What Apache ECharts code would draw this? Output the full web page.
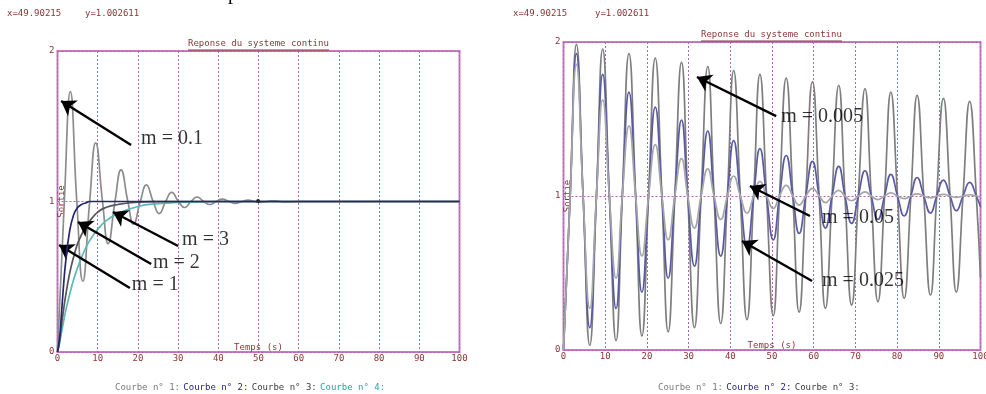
<!DOCTYPE html>
<html>
<head>
<meta charset="utf-8">
<script src="https://cdn.jsdelivr.net/npm/echarts@6/dist/echarts.min.js"></script>
<style>
  html, body { margin: 0; padding: 0; background: #ffffff; }
  #c { width: 986px; height: 394px; }
</style>
</head>
<body>
<div id="c"></div>
<script>
// ---- Left panel: step responses, m = 0.1 (oscillating) ----
const tLeftOsc = [0, 1.7, 3.2, 4.8, 6.3, 8.0, 9.5, 11.2, 12.6, 14.3, 15.8, 17.5, 18.9, 20.6, 22.1, 23.8, 25.3, 26.9, 28.4, 30.1,
  31.6, 33.2, 34.7, 36.4, 37.9, 39.5, 41.0, 42.7, 44.2, 45.9, 47.4, 49.0, 50.5, 52.2, 53.7, 55.3, 56.8, 60, 100];
const yM01 = [0, 1, 1.73, 1, 0.47, 1, 1.39, 1, 0.72, 1, 1.21, 1, 0.85, 1, 1.11, 1, 0.92, 1, 1.06, 1,
  0.96, 1, 1.03, 1, 0.98, 1, 1.016, 1, 0.988, 1, 1.009, 1, 0.994, 1, 1.004, 1, 0.997, 1, 1];

// ---- Left panel: damped responses m = 1, 2, 3 ----
const tLeftStep = [0, 0.5, 1, 1.5, 2, 3, 4, 5, 6, 7, 8, 10, 12, 15, 20, 25, 30, 40, 100];
const yM1 = [0, 0.09, 0.26, 0.44, 0.59, 0.80, 0.91, 0.96, 0.98, 0.99, 1.0, 1.0, 1.0, 1.0, 1.0, 1.0, 1.0, 1.0, 1.0];
const yM2 = [0, 0.07, 0.18, 0.28, 0.37, 0.52, 0.63, 0.72, 0.78, 0.835, 0.87, 0.93, 0.96, 0.98, 0.995, 0.999, 1.0, 1.0, 1.0];
const yM3 = [0, 0.056, 0.13, 0.20, 0.27, 0.38, 0.48, 0.56, 0.63, 0.69, 0.74, 0.815, 0.87, 0.92, 0.967, 0.986, 0.994, 0.999, 1.0];

// ---- Right panel: lightly damped responses m = 0.005, 0.025, 0.05 ----
const tRight = [0, 1.6, 3.1, 4.7, 6.3, 7.9, 9.4, 11.0, 12.6, 14.1, 15.7, 17.3, 18.8, 20.4, 22.0, 23.6, 25.1, 26.7, 28.3, 29.8,
  31.4, 33.0, 34.6, 36.1, 37.7, 39.3, 40.8, 42.4, 44.0, 45.6, 47.1, 48.7, 50.3, 51.8, 53.4, 55.0, 56.5, 58.1, 59.7, 61.3,
  62.8, 64.4, 66.0, 67.5, 69.1, 70.7, 72.3, 73.8, 75.4, 77.0, 78.5, 80.1, 81.7, 83.3, 84.8, 86.4, 88.0, 89.5, 91.1, 92.7,
  94.2, 95.8, 97.4, 99.0, 100];
const yM0005 = [0, 1, 1.984, 1, 0.031, 1, 1.954, 1, 0.061, 1, 1.925, 1, 0.090, 1, 1.896, 1, 0.118, 1, 1.868, 1,
  0.145, 1, 1.841, 1, 0.172, 1, 1.815, 1, 0.197, 1, 1.790, 1, 0.222, 1, 1.766, 1, 0.246, 1, 1.742, 1,
  0.270, 1, 1.719, 1, 0.292, 1, 1.697, 1, 0.314, 1, 1.675, 1, 0.335, 1, 1.654, 1, 0.356, 1, 1.634, 1,
  0.376, 1, 1.615, 1, 0.47];
const yM0025 = [0, 1, 1.925, 1, 0.145, 1, 1.790, 1, 0.270, 1, 1.675, 1, 0.376, 1, 1.577, 1, 0.466, 1, 1.493, 1,
  0.544, 1, 1.422, 1, 0.610, 1, 1.360, 1, 0.667, 1, 1.308, 1, 0.715, 1, 1.263, 1, 0.757, 1, 1.225, 1,
  0.792, 1, 1.192, 1, 0.822, 1, 1.164, 1, 0.848, 1, 1.141, 1, 0.870, 1, 1.120, 1, 0.889, 1, 1.103, 1,
  0.905, 1, 1.088, 1, 0.93];
const yM005 = [0, 1, 1.855, 1, 0.270, 1, 1.624, 1, 0.467, 1, 1.456, 1, 0.611, 1, 1.333, 1, 0.716, 1, 1.243, 1,
  0.792, 1, 1.177, 1, 0.848, 1, 1.130, 1, 0.889, 1, 1.095, 1, 0.919, 1, 1.069, 1, 0.941, 1, 1.050, 1,
  0.957, 1, 1.037, 1, 0.969, 1, 1.027, 1, 0.977, 1, 1.020, 1, 0.983, 1, 1.014, 1, 0.988, 1, 1.011, 1,
  0.991, 1, 1.008, 1, 0.994];

// cursor readout
const cursorX = 49.90215;
const cursorY = 1.002611;

// annotation labels (text, anchor) and arrows (tail, head), in data units
const leftNoteText = ['m = 0.1', 'm = 3', 'm = 2', 'm = 1'];
const leftNoteAt = [[20.8, 1.415], [31.0, 0.744], [23.75, 0.591], [18.5, 0.445]];
const leftArrowFrom = [[18.3, 1.375], [30.0, 0.704], [23.3, 0.585], [18.0, 0.425]];
const leftArrowTo = [[0.9, 1.668], [13.8, 0.930], [5.1, 0.864], [0.4, 0.711]];

const rightNoteText = ['m = 0.005', 'm = 0.05', 'm = 0.025'];
const rightNoteAt = [[52.2, 1.513], [62.0, 0.857], [62.0, 0.448]];
const rightArrowFrom = [[51.0, 1.519], [59.1, 0.870], [59.6, 0.448]];
const rightArrowTo = [[32.0, 1.773], [44.7, 1.065], [42.8, 0.708]];

const titleText = 'Reponse du systeme continu';
const xName = 'Temps (s)';
const yName = 'Sortie';

// ---- styling ----
const MONO = 'DejaVu Sans Mono';
const SERIF = 'Liberation Serif';
const RED = '#8a3434';
const FRAME = '#c47cc4';
const GRIDC = '#b064b0';

const zip = (ts, ys) => ts.map((t, i) => [t, ys[i]]);

function xAxisCfg(gi) {
  return {
    type: 'value', gridIndex: gi, min: 0, max: 100, interval: 10,
    axisLine: { show: false }, axisTick: { show: false },
    axisLabel: { color: RED, fontFamily: MONO, fontSize: 9, margin: 2 },
    splitLine: { show: true, lineStyle: { color: GRIDC, type: [2, 2], width: 1 } },
    name: xName, nameLocation: 'middle', nameGap: -9, nameMoveOverlap: false,
    nameTextStyle: { color: RED, fontFamily: MONO, fontSize: 9 }
  };
}
function yAxisCfg(gi) {
  return {
    type: 'value', gridIndex: gi, min: 0, max: 2, interval: 1,
    axisLine: { show: false }, axisTick: { show: false },
    axisLabel: { color: RED, fontFamily: MONO, fontSize: 9, margin: 3 },
    splitLine: { show: true, lineStyle: { color: GRIDC, type: [2, 2], width: 1 } },
    name: yName, nameLocation: 'middle', nameRotate: 90, nameGap: -9, nameMoveOverlap: false,
    nameTextStyle: { color: RED, fontFamily: MONO, fontSize: 9 }
  };
}
function curve(gi, data, color, z) {
  return {
    type: 'line', xAxisIndex: gi, yAxisIndex: gi, data, smooth: 0.5,
    showSymbol: false, symbol: 'none', z: z || 2,
    lineStyle: { color, width: 1.7 }, silent: true
  };
}
function arrows(from, to) {
  return {
    silent: true, symbol: ['none', 'arrow'], symbolSize: 14,
    label: { show: false },
    lineStyle: { color: '#000', width: 2.4, type: 'solid' },
    emphasis: { disabled: true },
    data: from.map((f, i) => [{ coord: f }, { coord: to[i] }])
  };
}
function notes(gi, texts, at) {
  return {
    type: 'scatter', xAxisIndex: gi, yAxisIndex: gi, symbolSize: 0, silent: true, z: 10,
    data: at.map((p, i) => [p[0], p[1], texts[i]]),
    label: {
      show: true, position: 'right', distance: 0,
      formatter: p => p.data[2],
      fontFamily: SERIF, fontSize: 20, color: '#000'
    }
  };
}

const sLeft0 = curve(0, zip(tLeftOsc, yM01), '#8c8c8c', 2);
sLeft0.markLine = arrows(leftArrowFrom, leftArrowTo);
sLeft0.markPoint = {
  silent: true, symbol: 'circle', symbolSize: 4, label: { show: false },
  itemStyle: { color: '#222' },
  data: [{ coord: [cursorX, cursorY] }]
};
const sRight0 = curve(1, zip(tRight, yM0005), '#7e7e7e', 2);
sRight0.markLine = arrows(rightArrowFrom, rightArrowTo);

const legendRich = {
  g: { fill: '#7a7a7a', fontFamily: MONO, fontSize: 9 },
  n: { fill: '#24248a', fontFamily: MONO, fontSize: 9 },
  d: { fill: '#3a3a3a', fontFamily: MONO, fontSize: 9 },
  c: { fill: '#2aa2aa', fontFamily: MONO, fontSize: 9 }
};
const smallText = { fontFamily: MONO, fontSize: 9, fill: RED };

const option = {
  animation: false,
  backgroundColor: '#ffffff',
  grid: [
    { left: 57.5, top: 51, width: 402, height: 301, show: true, borderColor: FRAME, borderWidth: 2,
      backgroundColor: 'transparent', outerBoundsMode: 'none', containLabel: false },
    { left: 563.5, top: 42, width: 417, height: 308, show: true, borderColor: FRAME, borderWidth: 2,
      backgroundColor: 'transparent', outerBoundsMode: 'none', containLabel: false }
  ],
  xAxis: [xAxisCfg(0), xAxisCfg(1)],
  yAxis: [yAxisCfg(0), yAxisCfg(1)],
  series: [
    sLeft0,
    curve(0, zip(tLeftStep, yM3), '#5cb8ba', 3),
    curve(0, zip(tLeftStep, yM2), '#565656', 4),
    curve(0, zip(tLeftStep, yM1), '#25256e', 5),
    notes(0, leftNoteText, leftNoteAt),
    sRight0,
    curve(1, zip(tRight, yM0025), '#5a5aa4', 3),
    curve(1, zip(tRight, yM005), '#a6a6a6', 4),
    notes(1, rightNoteText, rightNoteAt)
  ],
  graphic: [
    { type: 'text', left: 7, top: 9, style: Object.assign({ text: 'x=' + cursorX }, smallText) },
    { type: 'text', left: 85, top: 9, style: Object.assign({ text: 'y=' + cursorY }, smallText) },
    { type: 'text', left: 513, top: 9, style: Object.assign({ text: 'x=' + cursorX }, smallText) },
    { type: 'text', left: 595, top: 9, style: Object.assign({ text: 'y=' + cursorY }, smallText) },
    { type: 'text', left: 188, top: 39, style: Object.assign({ text: titleText }, smallText) },
    { type: 'line', shape: { x1: 188, y1: 50, x2: 329, y2: 50 }, style: { stroke: RED, lineWidth: 1 } },
    { type: 'text', left: 701, top: 30, style: Object.assign({ text: titleText }, smallText) },
    { type: 'line', shape: { x1: 701, y1: 41, x2: 842, y2: 41 }, style: { stroke: RED, lineWidth: 1 } },
    { type: 'text', left: 115, top: 382, style: {
        text: '{g|Courbe n° 1:} {n|Courbe n° 2:} {d|Courbe n° 3:} {c|Courbe n° 4:}', rich: legendRich } },
    { type: 'text', left: 658, top: 382, style: {
        text: '{g|Courbe n° 1:} {n|Courbe n° 2:} {d|Courbe n° 3:}', rich: legendRich } },
    { type: 'text', left: 228, top: -16, style: { text: 'p', fontFamily: SERIF, fontSize: 20, fill: '#000' } }
  ]
};

const chart = echarts.init(document.getElementById('c'));
chart.setOption(option);
</script>
</body>
</html>
